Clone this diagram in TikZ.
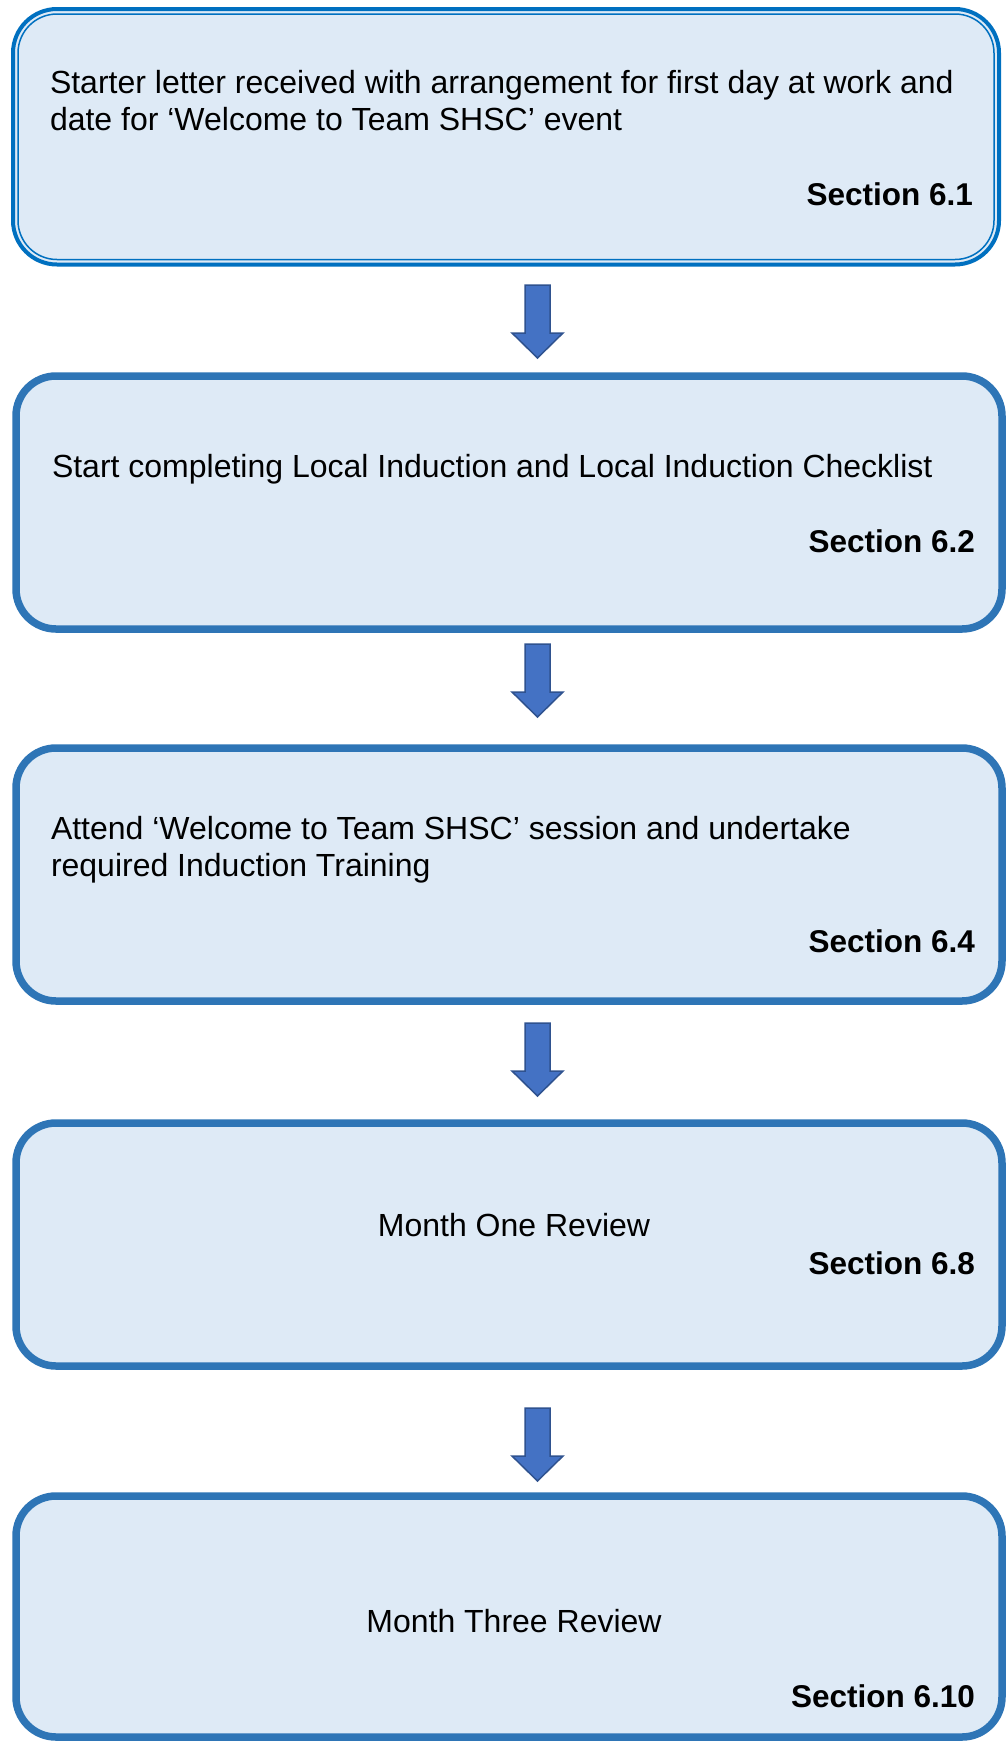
\documentclass[tikz,border=0pt]{standalone}
\usepackage{fontspec}
\setmainfont{Liberation Sans}
\usetikzlibrary{calc}
\definecolor{boxfill}{HTML}{DEEAF6}
\definecolor{boxline}{HTML}{2E75B6}
\definecolor{firstline}{HTML}{0070C0}
\definecolor{arrfill}{HTML}{4472C4}
\definecolor{arrline}{HTML}{2F528F}
\tikzset{
  stagebox/.style={draw=boxline, fill=boxfill, line width=7.5pt, rounded corners=40pt,
    outer sep=0pt, inner sep=0pt, minimum width=986pt, anchor=north west},
  firstbox/.style={draw=firstline, fill=boxfill, line width=4pt, rounded corners=44pt,
    outer sep=0pt, inner sep=0pt, anchor=north west},
  bodytxt/.style={font={\fontsize{32}{37}\selectfont}, inner sep=0pt, outer sep=0pt},
  secttxt/.style={font={\fontsize{31.5}{37}\selectfont\bfseries}, inner sep=0pt, outer sep=0pt, anchor=base east},
  blockarr/.style={fill=arrfill, draw=arrline, line width=1.5pt, line join=miter}
}
\newcommand\blockarrow[1]{%
  \draw[blockarr] ($(#1)+(-12.5,0)$) -- ($(#1)+(12.5,0)$) -- ($(#1)+(12.5,48)$)
    -- ($(#1)+(25.5,48)$) -- ($(#1)+(0,73)$) -- ($(#1)+(-25.5,48)$)
    -- ($(#1)+(-12.5,48)$) -- cycle;}
\begin{document}
\begin{tikzpicture}[x=1pt,y=-1pt]
\useasboundingbox (0,0) rectangle (1005,1741);
\fill[white] (0,0) rectangle (1005,1741);

% box 1 (double border)
\node[firstbox, minimum width=986pt, minimum height=255.5pt] (b1) at (13,9) {};
\draw[firstline, line width=1.5pt, rounded corners=39pt]
  ($(b1.north west)+(5,5)$) rectangle ($(b1.south east)+(-5,-5)$);
\node[bodytxt, anchor=base west, align=left] (t1) at (50,130)
  {Starter letter received with arrangement for first day at work and\\date for ‘Welcome to Team SHSC’ event};
\node[secttxt] (s1) at (973,205) {Section 6.1};

% box 2
\node[stagebox, minimum height=253pt] (b2) at (16,376) {};
\node[bodytxt, anchor=base west] (t2) at (52,477)
  {Start completing Local Induction and Local Induction Checklist};
\node[secttxt] (s2) at (975,552) {Section 6.2};

% box 3
\node[stagebox, minimum height=253pt] (b3) at (16,748) {};
\node[bodytxt, anchor=base west, align=left] (t3) at (51,876)
  {Attend ‘Welcome to Team SHSC’ session and undertake\\required Induction Training};
\node[secttxt] (s3) at (975,952) {Section 6.4};

% box 4
\node[stagebox, minimum height=243pt] (b4) at (16,1123) {};
\node[bodytxt, anchor=base] (t4) at (514,1236) {Month One Review};
\node[secttxt] (s4) at (975,1274) {Section 6.8};

% box 5
\node[stagebox, minimum height=241pt] (b5) at (16,1496) {};
\node[bodytxt, anchor=base] (t5) at (514,1632) {Month Three Review};
\node[secttxt] (s5) at (975,1707) {Section 6.10};

% block arrows
\coordinate (a1) at (537.5,285);
\coordinate (a2) at (537.5,644);
\coordinate (a3) at (537.5,1023);
\coordinate (a4) at (537.5,1408);
\blockarrow{a1}
\blockarrow{a2}
\blockarrow{a3}
\blockarrow{a4}
\end{tikzpicture}
\end{document}
